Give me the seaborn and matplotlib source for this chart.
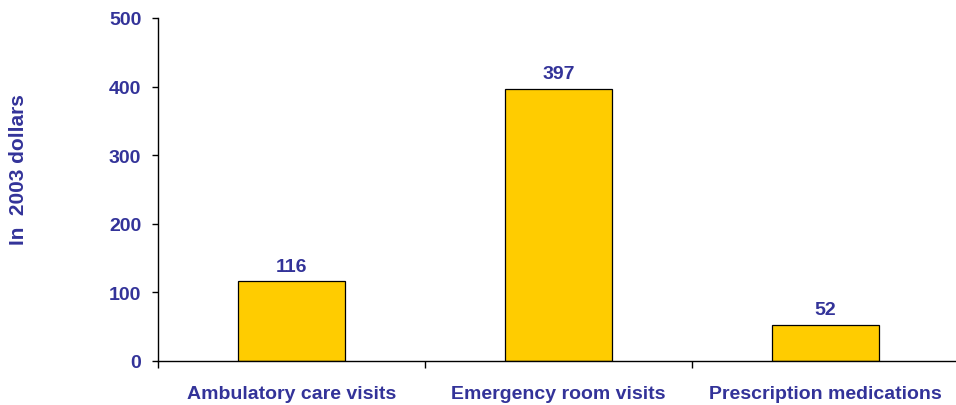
import matplotlib
matplotlib.use("Agg")
import matplotlib.pyplot as plt
import seaborn as sns
import pandas as pd

categories = ["Ambulatory care visits", "Emergency room visits", "Prescription medications"]
values = [116, 397, 52]
yticks = [0, 100, 200, 300, 400, 500]

sns.set_theme(style="white")
plt.rcParams["font.family"] = ["Liberation Sans", "DejaVu Sans"]
txt = "#333399"

fig = plt.figure(figsize=(9.56, 4.06), dpi=100)
ax = fig.add_axes([158/956, 44/406, 801/956, 343/406])

df = pd.DataFrame({"cat": categories, "val": values})
sns.barplot(data=df, x="cat", y="val", color="#FFCC00", saturation=1,
            edgecolor="black", linewidth=0.9, width=0.4, ax=ax)

ax.set_ylim(0, 500)
ax.set_xlim(-0.5, 2.5)
ax.set_yticks(yticks)
ax.set_yticklabels([str(t) for t in yticks], fontsize=14, fontweight="bold", color=txt)
ax.set_xticks([0, 1, 2])
ax.set_xticklabels(categories, fontsize=14, fontweight="bold", color=txt)
ax.tick_params(axis="x", length=0, pad=17.5)
ax.tick_params(axis="y", length=4.5, width=1, color="black", direction="out", left=True, pad=7.5)
ax.set_xticks([-0.5, 0.5, 1.5], minor=True)
ax.tick_params(axis="x", which="minor", length=5, width=1, color="black", direction="out", bottom=True)

for s in ["top", "right"]:
    ax.spines[s].set_visible(False)
for s in ["left", "bottom"]:
    ax.spines[s].set_color("black")
    ax.spines[s].set_linewidth(1)

ax.set_xlabel("")
ax.set_ylabel("In  2003 dollars", fontsize=15, fontweight="bold", color=txt, labelpad=0)
ax.yaxis.set_label_coords(-130/801, 0.56)

for i, v in enumerate(values):
    ax.text(i, v + 10, str(v), ha="center", va="bottom", fontsize=14, fontweight="bold", color=txt)

fig.savefig("out.png", dpi=100)
